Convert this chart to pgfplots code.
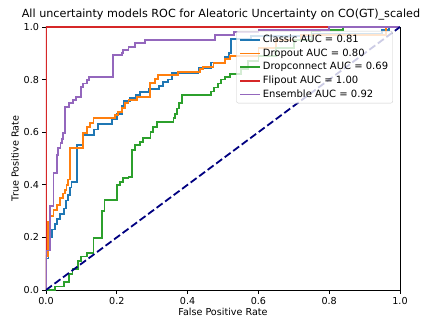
\documentclass[border=0pt]{standalone}
\usepackage{fontspec}
\setmainfont{DejaVu Sans}
\usepackage{pgfplots}
\pgfplotsset{compat=1.18}
\definecolor{c0}{HTML}{1F77B4}
\definecolor{c1}{HTML}{FF7F0E}
\definecolor{c2}{HTML}{2CA02C}
\definecolor{c3}{HTML}{D62728}
\definecolor{c4}{HTML}{9467BD}
\definecolor{navy}{HTML}{000080}
\begin{document}
\begin{tikzpicture}
\useasboundingbox (-46pt,-31pt) rectangle (387pt,290pt);
\begin{axis}[
  at={(0,0)}, anchor=south west,
  scale only axis, width=354pt, height=263pt,
  xmin=0, xmax=1, ymin=0, ymax=1,
  xtick={0,0.2,0.4,0.6,0.8,1}, ytick={0,0.2,0.4,0.6,0.8,1},
  xtick pos=bottom, ytick pos=left,
  tick align=outside, major tick length=3.5pt,
  every tick/.style={black, line width=0.8pt},
  axis line style={line width=0.8pt},
  /pgf/number format/assume math mode=true,
  /pgf/number format/.cd, fixed, fixed zerofill, precision=1, /pgfplots/.cd,
  tick label style={font=\fontsize{9.6}{11.5}\selectfont},
  xticklabel style={yshift=0pt},
  title={All uncertainty models ROC for Aleatoric Uncertainty on CO(GT)\_scaled},
  title style={font=\fontsize{11.2}{13.5}\selectfont, yshift=-3pt, xshift=-2pt},
  xlabel={False Positive Rate}, ylabel={True Positive Rate},
  label style={font=\fontsize{9.6}{11.5}\selectfont},
  xlabel style={yshift=3pt}, ylabel style={yshift=-2pt},
  legend cell align=left,
  legend image code/.code={\draw[#1] (0pt,0pt) -- (20pt,0pt);},
  legend style={at={(0.98,0.985)}, anchor=north east, draw=black!20, rounded corners=2pt,
    fill=white, fill opacity=0.8, text opacity=1, font=\fontsize{10}{12}\selectfont,
    nodes={inner sep=1.6pt, text height=7.6pt, text depth=2.4pt}, row sep=0.5pt},
  every axis plot/.append style={line width=1.8pt, line join=miter},
]
\addplot[c0] coordinates {
(0,0) (0,0.12) (0.007,0.12) (0.007,0.20) (0.017,0.20) (0.017,0.23) (0.025,0.23) (0.025,0.25)
(0.032,0.25) (0.032,0.27) (0.04,0.27) (0.04,0.29) (0.05,0.29) (0.05,0.31) (0.057,0.31) (0.057,0.34)
(0.062,0.34) (0.062,0.36) (0.067,0.36) (0.067,0.39) (0.072,0.39) (0.072,0.41) (0.087,0.41) (0.087,0.55)
(0.105,0.55) (0.105,0.59) (0.136,0.59) (0.136,0.61) (0.148,0.61) (0.148,0.63) (0.186,0.63) (0.186,0.65)
(0.2,0.65) (0.2,0.67) (0.214,0.67) (0.214,0.70) (0.22,0.70) (0.22,0.72) (0.238,0.72) (0.238,0.73)
(0.255,0.73) (0.255,0.74) (0.266,0.74) (0.266,0.753) (0.29,0.753) (0.29,0.765) (0.32,0.765) (0.32,0.775)
(0.33,0.775) (0.33,0.79) (0.345,0.79) (0.345,0.80) (0.357,0.80) (0.357,0.825) (0.431,0.825) (0.431,0.845)
(0.465,0.845) (0.465,0.865) (0.505,0.865) (0.505,0.885) (0.516,0.885) (0.516,0.90) (0.522,0.90) (0.522,0.955)
(0.58,0.955) (0.58,0.965) (0.75,0.965) (0.75,0.975) (0.95,0.975) (0.95,0.99) (0.97,0.99) (0.97,1) (1,1)};
\addlegendentry{Classic AUC = 0.81}
\addplot[c1] coordinates {
(0,0) (0,0.13) (0.006,0.13) (0.006,0.26) (0.011,0.26) (0.011,0.28) (0.021,0.28) (0.021,0.304)
(0.03,0.304) (0.03,0.323) (0.04,0.323) (0.04,0.349) (0.047,0.349) (0.047,0.367) (0.054,0.367) (0.054,0.38)
(0.058,0.38) (0.058,0.40) (0.063,0.40) (0.063,0.42) (0.068,0.42) (0.068,0.54) (0.105,0.54) (0.105,0.596)
(0.115,0.596) (0.115,0.621) (0.124,0.621) (0.124,0.634) (0.134,0.634) (0.134,0.653) (0.195,0.653) (0.195,0.665)
(0.204,0.665) (0.204,0.678) (0.214,0.678) (0.214,0.691) (0.223,0.691) (0.223,0.71) (0.233,0.71) (0.233,0.722)
(0.256,0.722) (0.256,0.735) (0.294,0.735) (0.294,0.786) (0.308,0.786) (0.308,0.801) (0.317,0.801) (0.317,0.817)
(0.374,0.817) (0.374,0.83) (0.435,0.83) (0.435,0.839) (0.444,0.839) (0.444,0.849) (0.473,0.849) (0.473,0.862)
(0.506,0.862) (0.506,0.877) (0.52,0.877) (0.52,0.89) (0.6,0.89) (0.6,0.92) (0.65,0.92) (0.65,0.95)
(0.72,0.95) (0.72,0.97) (0.96,0.97) (0.96,1) (1,1)};
\addlegendentry{Dropout AUC = 0.80}
\addplot[c2] coordinates {
(0,0) (0.025,0) (0.025,0.013) (0.05,0.013) (0.05,0.03) (0.065,0.03) (0.065,0.06) (0.075,0.06)
(0.075,0.08) (0.09,0.08) (0.09,0.11) (0.1,0.11) (0.1,0.127) (0.115,0.127) (0.115,0.14) (0.134,0.14)
(0.134,0.197) (0.158,0.197) (0.158,0.30) (0.165,0.30) (0.165,0.342) (0.2,0.342) (0.2,0.40) (0.209,0.40)
(0.209,0.412) (0.218,0.412) (0.218,0.425) (0.233,0.425) (0.233,0.431) (0.242,0.431) (0.242,0.532) (0.251,0.532)
(0.251,0.551) (0.266,0.551) (0.266,0.564) (0.275,0.564) (0.275,0.577) (0.295,0.577) (0.295,0.60) (0.303,0.60)
(0.303,0.62) (0.313,0.62) (0.313,0.64) (0.36,0.64) (0.36,0.654) (0.365,0.654) (0.365,0.67) (0.37,0.67)
(0.37,0.69) (0.375,0.69) (0.375,0.71) (0.385,0.71) (0.385,0.74) (0.465,0.74) (0.465,0.755) (0.475,0.755)
(0.475,0.77) (0.485,0.77) (0.485,0.785) (0.495,0.785) (0.495,0.80) (0.505,0.80) (0.505,0.81) (0.52,0.81)
(0.52,0.82) (0.55,0.82) (0.55,0.84) (0.57,0.84) (0.57,0.87) (0.60,0.87) (0.60,0.89) (0.65,0.89)
(0.65,0.92) (0.70,0.92) (0.70,0.95) (0.75,0.95) (0.75,0.985) (0.775,0.985) (0.775,0.99) (0.84,0.99)
(0.84,1) (1,1)};
\addlegendentry{Dropconnect AUC = 0.69}
\addplot[c3] coordinates {(0,0) (0,1) (1,1)};
\addlegendentry{Flipout AUC = 1.00}
\addplot[c4] coordinates {
(0,0) (0,0.15) (0.011,0.15) (0.011,0.32) (0.021,0.32) (0.021,0.444) (0.03,0.444) (0.03,0.513)
(0.035,0.513) (0.035,0.539) (0.041,0.539) (0.041,0.558) (0.045,0.558) (0.045,0.575) (0.049,0.575) (0.049,0.596)
(0.054,0.596) (0.054,0.697) (0.066,0.697) (0.066,0.71) (0.077,0.71) (0.077,0.722) (0.085,0.722) (0.085,0.733)
(0.098,0.733) (0.098,0.773) (0.105,0.773) (0.105,0.785) (0.115,0.785) (0.115,0.798) (0.122,0.798) (0.122,0.809)
(0.19,0.809) (0.19,0.894) (0.214,0.894) (0.214,0.902) (0.218,0.902) (0.218,0.913) (0.233,0.913) (0.233,0.925)
(0.251,0.925) (0.251,0.94) (0.28,0.94) (0.28,0.95) (0.477,0.95) (0.477,0.97) (0.53,0.97) (0.53,0.98)
(0.60,0.98) (0.60,0.99) (0.8,0.99) (0.8,1) (1,1)};
\addlegendentry{Ensemble AUC = 0.92}
\addplot[navy, dash pattern=on 7.4pt off 3.2pt, forget plot] coordinates {(0,0) (1,1)};
\end{axis}
\end{tikzpicture}
\end{document}
